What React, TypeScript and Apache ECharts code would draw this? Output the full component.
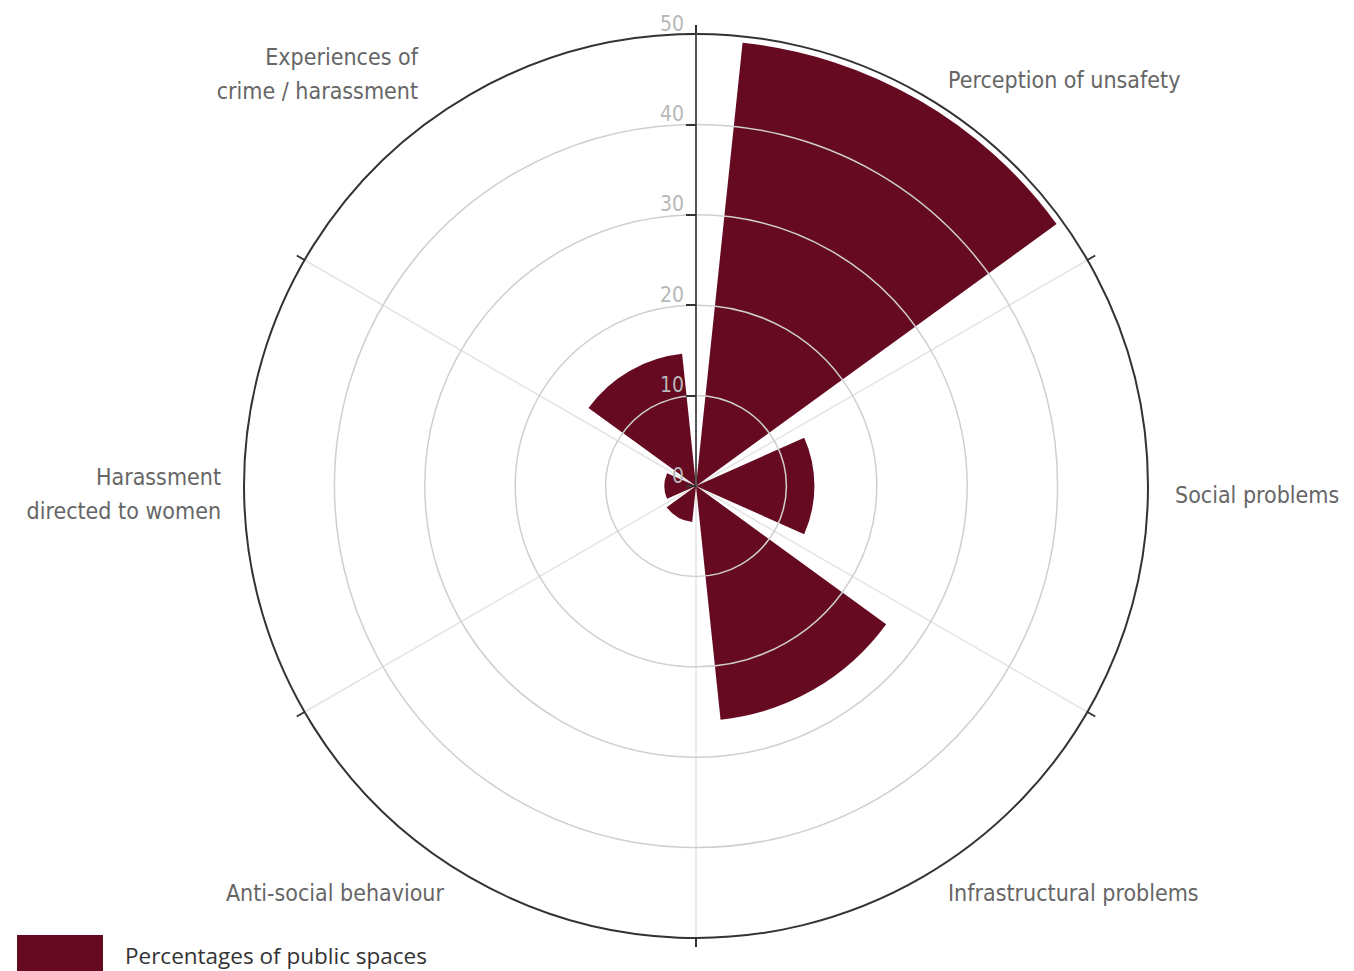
import React, { useEffect, useRef } from "react";
import * as echarts from "echarts";

// ---- data ----
const categories = [
  "Perception of unsafety",
  "Social problems",
  "Infrastructural problems",
  "Anti-social behaviour",
  "Harassment\ndirected to women",
  "Experiences of\ncrime / harassment",
];
const values = [49.3, 13.1, 26.0, 4.0, 3.5, 14.7];
const seriesName = "Percentages of public spaces";
const radiusMin = 0;
const radiusMax = 50;
const radiusStep = 10;

// ---- layout (positions of the category labels) ----
const labelLayout = [
  { x: 948, y: 80, align: "left" },
  { x: 1175, y: 495, align: "left" },
  { x: 948, y: 893, align: "left" },
  { x: 444, y: 893, align: "right" },
  { x: 221, y: 494, align: "right" },
  { x: 418, y: 74, align: "right" },
];

const NARROW = "'Liberation Sans Narrow', 'DejaVu Sans Condensed', 'Roboto', sans-serif";
const BAR_COLOR = "#650a20";
const RING = "#cfcfcf";

export default function App() {
  const ref = useRef<HTMLDivElement>(null);
  useEffect(() => {
    const chart = echarts.init(ref.current!, null, { renderer: "svg" });
    const option: any = {
      animation: false,
      backgroundColor: "#ffffff",
      polar: { center: [696, 486], radius: 452 },
      angleAxis: {
        type: "category",
        data: categories,
        startAngle: 90,
        clockwise: true,
        boundaryGap: true,
        axisLine: { show: true, lineStyle: { color: "#333333", width: 2 } },
        axisTick: { show: true, length: 9, lineStyle: { color: "#333333", width: 2 } },
        axisLabel: { show: false },
        splitLine: { show: true, lineStyle: { color: "#e4e4e4", width: 1.5 } },
        z: 1,
      },
      radiusAxis: {
        type: "value",
        min: radiusMin,
        max: radiusMax,
        interval: radiusStep,
        z: 5,
        axisLine: { show: true, lineStyle: { color: "#555555", width: 2 } },
        axisTick: { show: true, length: 10, lineStyle: { color: "#333333", width: 2 } },
        axisLabel: {
          show: true,
          margin: 12,
          verticalAlign: "bottom",
          color: "#b8b8b8",
          fontSize: 21,
          fontFamily: NARROW,
        },
        splitLine: {
          show: true,
          lineStyle: { color: [RING, RING, RING, RING, RING, "rgba(0,0,0,0)"], width: 1.5 },
        },
      },
      legend: {
        show: true,
        left: 17,
        top: 935,
        itemWidth: 86,
        itemHeight: 40,
        icon: "rect",
        padding: 0,
        textStyle: {
          color: "#333333",
          fontSize: 22.5,
          fontFamily: "'Open Sans', sans-serif",
          padding: [0, 0, 0, 17],
        },
        data: [seriesName],
      },
      series: [
        {
          name: seriesName,
          type: "bar",
          coordinateSystem: "polar",
          data: values,
          barCategoryGap: "20%",
          itemStyle: { color: BAR_COLOR },
          z: 2,
        },
      ],
      graphic: categories.map((c, i) => ({
        type: "text",
        x: labelLayout[i].x,
        y: labelLayout[i].y,
        silent: true,
        style: {
          text: c,
          fill: "#666666",
          fontSize: 23,
          fontFamily: NARROW,
          align: labelLayout[i].align,
          verticalAlign: "middle",
          lineHeight: 34,
        },
      })),
    };
    chart.setOption(option);
    return () => chart.dispose();
  }, []);
  return (
    <div
      ref={ref}
      style={{ position: "fixed", left: 0, top: 0, width: 1354, height: 971, background: "#fff" }}
    />
  );
}
